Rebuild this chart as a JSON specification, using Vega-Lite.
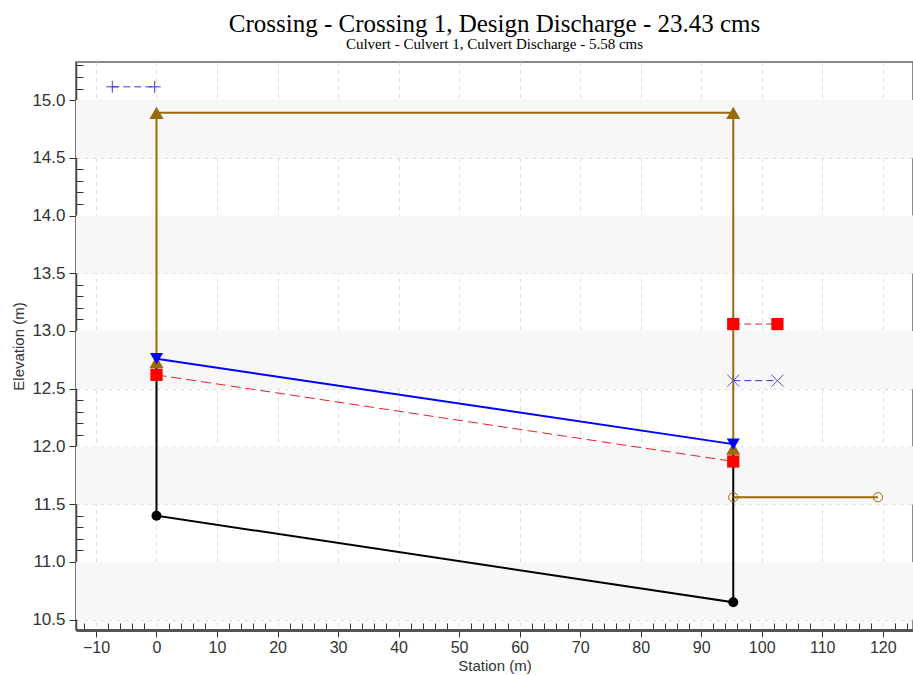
{
  "$schema": "https://vega.github.io/schema/vega-lite/v6.json",
  "width": 837,
  "height": 568,
  "autosize": {"type": "none"},
  "padding": {"left": 76, "top": 62, "right": 0, "bottom": 45},
  "background": "white",
  "title": {
    "text": "Crossing - Crossing 1, Design Discharge - 23.43 cms",
    "subtitle": "Culvert - Culvert 1, Culvert Discharge - 5.58 cms",
    "font": "Liberation Serif",
    "fontSize": 25,
    "fontWeight": "normal",
    "color": "#000",
    "subtitleFont": "Liberation Serif",
    "subtitleFontSize": 15,
    "subtitleColor": "#000",
    "subtitlePadding": 0,
    "anchor": "middle",
    "offset": 10
  },
  "config": {
    "view": {"stroke": "#666", "strokeWidth": 1.5}
  },
  "datasets": {
    "bands": [
      {"lo": 10.5, "hi": 11.0},
      {"lo": 11.5, "hi": 12.0},
      {"lo": 12.5, "hi": 13.0},
      {"lo": 13.5, "hi": 14.0},
      {"lo": 14.5, "hi": 15.0}
    ],
    "profile": [
      {"series": "culvert", "seq": 1, "station": 0, "elevation": 12.73},
      {"series": "culvert", "seq": 2, "station": 0, "elevation": 11.40},
      {"series": "culvert", "seq": 3, "station": 95.3, "elevation": 10.65},
      {"series": "culvert", "seq": 4, "station": 95.3, "elevation": 11.98},
      {"series": "invert", "seq": 1, "station": 0, "elevation": 11.40},
      {"series": "invert", "seq": 2, "station": 95.3, "elevation": 10.65},
      {"series": "road", "seq": 1, "station": 0, "elevation": 12.73},
      {"series": "road", "seq": 2, "station": 0, "elevation": 14.89},
      {"series": "road", "seq": 3, "station": 95.3, "elevation": 14.89},
      {"series": "road", "seq": 4, "station": 95.3, "elevation": 11.98},
      {"series": "tailwater", "seq": 1, "station": 95.3, "elevation": 11.56},
      {"series": "tailwater", "seq": 2, "station": 119.2, "elevation": 11.56},
      {"series": "hgl", "seq": 1, "station": 0, "elevation": 12.62},
      {"series": "hgl", "seq": 2, "station": 95.3, "elevation": 11.87},
      {"series": "wsp", "seq": 1, "station": 0, "elevation": 12.76},
      {"series": "wsp", "seq": 2, "station": 95.3, "elevation": 12.02},
      {"series": "outletRed", "seq": 1, "station": 95.3, "elevation": 13.06},
      {"series": "outletRed", "seq": 2, "station": 102.6, "elevation": 13.06},
      {"series": "outletX", "seq": 1, "station": 95.3, "elevation": 12.57},
      {"series": "outletX", "seq": 2, "station": 102.6, "elevation": 12.57},
      {"series": "headwater", "seq": 1, "station": -7.3, "elevation": 15.115},
      {"series": "headwater", "seq": 2, "station": -0.3, "elevation": 15.115}
    ]
  },
  "encoding": {
    "x": {
      "field": "station", "type": "quantitative",
      "scale": {"domain": [-13.3, 125.0], "nice": false, "zero": false},
      "axis": {
        "title": "Station (m)",
        "values": [-12,-10,-8,-6,-4,-2,0,2,4,6,8,10,12,14,16,18,20,22,24,26,28,30,32,34,36,38,40,42,44,46,48,50,52,54,56,58,60,62,64,66,68,70,72,74,76,78,80,82,84,86,88,90,92,94,96,98,100,102,104,106,108,110,112,114,116,118,120,122,124],
        "labelExpr": "datum.value % 10 === 0 ? datum.label : ''",
        "tickSize": {"condition": {"test": "datum.value % 10 === 0", "value": 7}, "value": -7},
        "gridOpacity": {"condition": {"test": "datum.value % 10 === 0", "value": 1}, "value": 0},
        "gridColor": "#dcdcdc",
        "gridDash": [4, 4],
        "domainColor": "#555",
        "domainWidth": 3,
        "tickColor": "#333",
        "labelFont": "Liberation Sans",
        "labelFontSize": 16,
        "labelColor": "#333",
        "labelPadding": 2,
        "titleFont": "Liberation Sans",
        "titleFontSize": 15,
        "titleFontWeight": "normal",
        "titleColor": "#333",
        "titlePadding": 3
      }
    },
    "y": {
      "field": "elevation", "type": "quantitative",
      "scale": {"domain": [10.41, 15.33], "nice": false, "zero": false},
      "axis": {
        "title": "Elevation (m)",
        "values": [10.5,10.6,10.7,10.8,10.9,11.0,11.1,11.2,11.3,11.4,11.5,11.6,11.7,11.8,11.9,12.0,12.1,12.2,12.3,12.4,12.5,12.6,12.7,12.8,12.9,13.0,13.1,13.2,13.3,13.4,13.5,13.6,13.7,13.8,13.9,14.0,14.1,14.2,14.3,14.4,14.5,14.6,14.7,14.8,14.9,15.0,15.1,15.2,15.3],
        "format": ".1f",
        "labelExpr": "abs(datum.value*2 - round(datum.value*2)) < 0.001 ? datum.label : ''",
        "tickSize": {"condition": {"test": "abs(datum.value*2 - round(datum.value*2)) < 0.001", "value": 7}, "value": -7},
        "gridOpacity": {"condition": {"test": "abs(datum.value*2 - round(datum.value*2)) < 0.001", "value": 1}, "value": 0},
        "gridColor": "#dcdcdc",
        "gridDash": [4, 4],
        "domainColor": "#444",
        "domainWidth": 1.5,
        "tickColor": "#333",
        "labelFont": "Liberation Sans",
        "labelFontSize": 17,
        "labelColor": "#333",
        "labelPadding": 4,
        "titleFont": "Liberation Sans",
        "titleFontSize": 15,
        "titleFontWeight": "normal",
        "titleColor": "#333",
        "titlePadding": 5
      }
    }
  },
  "layer": [
    {
      "data": {"name": "bands"},
      "mark": {"type": "rect", "color": "#f7f7f7"},
      "encoding": {
        "x": {"value": 0},
        "x2": {"value": 837},
        "y": {"field": "lo", "type": "quantitative"},
        "y2": {"field": "hi"}
      }
    },
    {
      "data": {"name": "profile"},
      "transform": [{"filter": "datum.series === 'culvert'"}],
      "mark": {"type": "line", "color": "#000", "strokeWidth": 2},
      "encoding": {"order": {"field": "seq"}}
    },
    {
      "data": {"name": "profile"},
      "transform": [{"filter": "datum.series === 'road'"}],
      "mark": {"type": "line", "color": "#9a6a0e", "strokeWidth": 2, "point": {"shape": "triangle-up", "size": 200, "filled": true, "color": "#9a6a0e", "opacity": 1}},
      "encoding": {"order": {"field": "seq"}}
    },
    {
      "data": {"name": "profile"},
      "transform": [{"filter": "datum.series === 'tailwater'"}],
      "mark": {"type": "line", "color": "#9a6a0e", "strokeWidth": 2, "point": {"shape": "circle", "size": 85, "filled": false, "color": "#9a6a0e", "strokeWidth": 1, "opacity": 1}},
      "encoding": {"order": {"field": "seq"}}
    },
    {
      "data": {"name": "profile"},
      "transform": [{"filter": "datum.series === 'invert'"}],
      "mark": {"type": "point", "shape": "circle", "size": 100, "filled": true, "color": "#000", "opacity": 1}
    },
    {
      "data": {"name": "profile"},
      "transform": [{"filter": "datum.series === 'hgl'"}],
      "mark": {"type": "line", "color": "#e8202a", "strokeWidth": 1, "strokeDash": [10, 5], "point": {"shape": "square", "size": 150, "filled": true, "color": "#ff0000", "opacity": 1}},
      "encoding": {"order": {"field": "seq"}}
    },
    {
      "data": {"name": "profile"},
      "transform": [{"filter": "datum.series === 'wsp'"}],
      "mark": {"type": "line", "color": "#0000ff", "strokeWidth": 2, "point": {"shape": "triangle-down", "size": 170, "filled": true, "color": "#0000ff", "opacity": 1}},
      "encoding": {"order": {"field": "seq"}}
    },
    {
      "data": {"name": "profile"},
      "transform": [{"filter": "datum.series === 'outletRed'"}],
      "mark": {"type": "line", "color": "#e8202a", "strokeWidth": 1, "strokeDash": [7, 4], "point": {"shape": "square", "size": 150, "filled": true, "color": "#ff0000", "opacity": 1}},
      "encoding": {"order": {"field": "seq"}}
    },
    {
      "data": {"name": "profile"},
      "transform": [{"filter": "datum.series === 'outletX'"}],
      "mark": {"type": "line", "color": "#3333cc", "strokeWidth": 1, "strokeDash": [7, 4], "point": {"shape": "M-1,-1L1,1M-1,1L1,-1", "size": 144, "filled": false, "color": "#5555cc", "strokeWidth": 1, "opacity": 1}},
      "encoding": {"order": {"field": "seq"}}
    },
    {
      "data": {"name": "profile"},
      "transform": [{"filter": "datum.series === 'headwater'"}],
      "mark": {"type": "line", "color": "#3a3ae0", "strokeWidth": 1, "strokeDash": [7, 4], "point": {"shape": "M-1,0L1,0M0,-1L0,1", "size": 144, "filled": false, "color": "#3a3ae0", "strokeWidth": 1, "opacity": 1}},
      "encoding": {"order": {"field": "seq"}}
    }
  ]
}
